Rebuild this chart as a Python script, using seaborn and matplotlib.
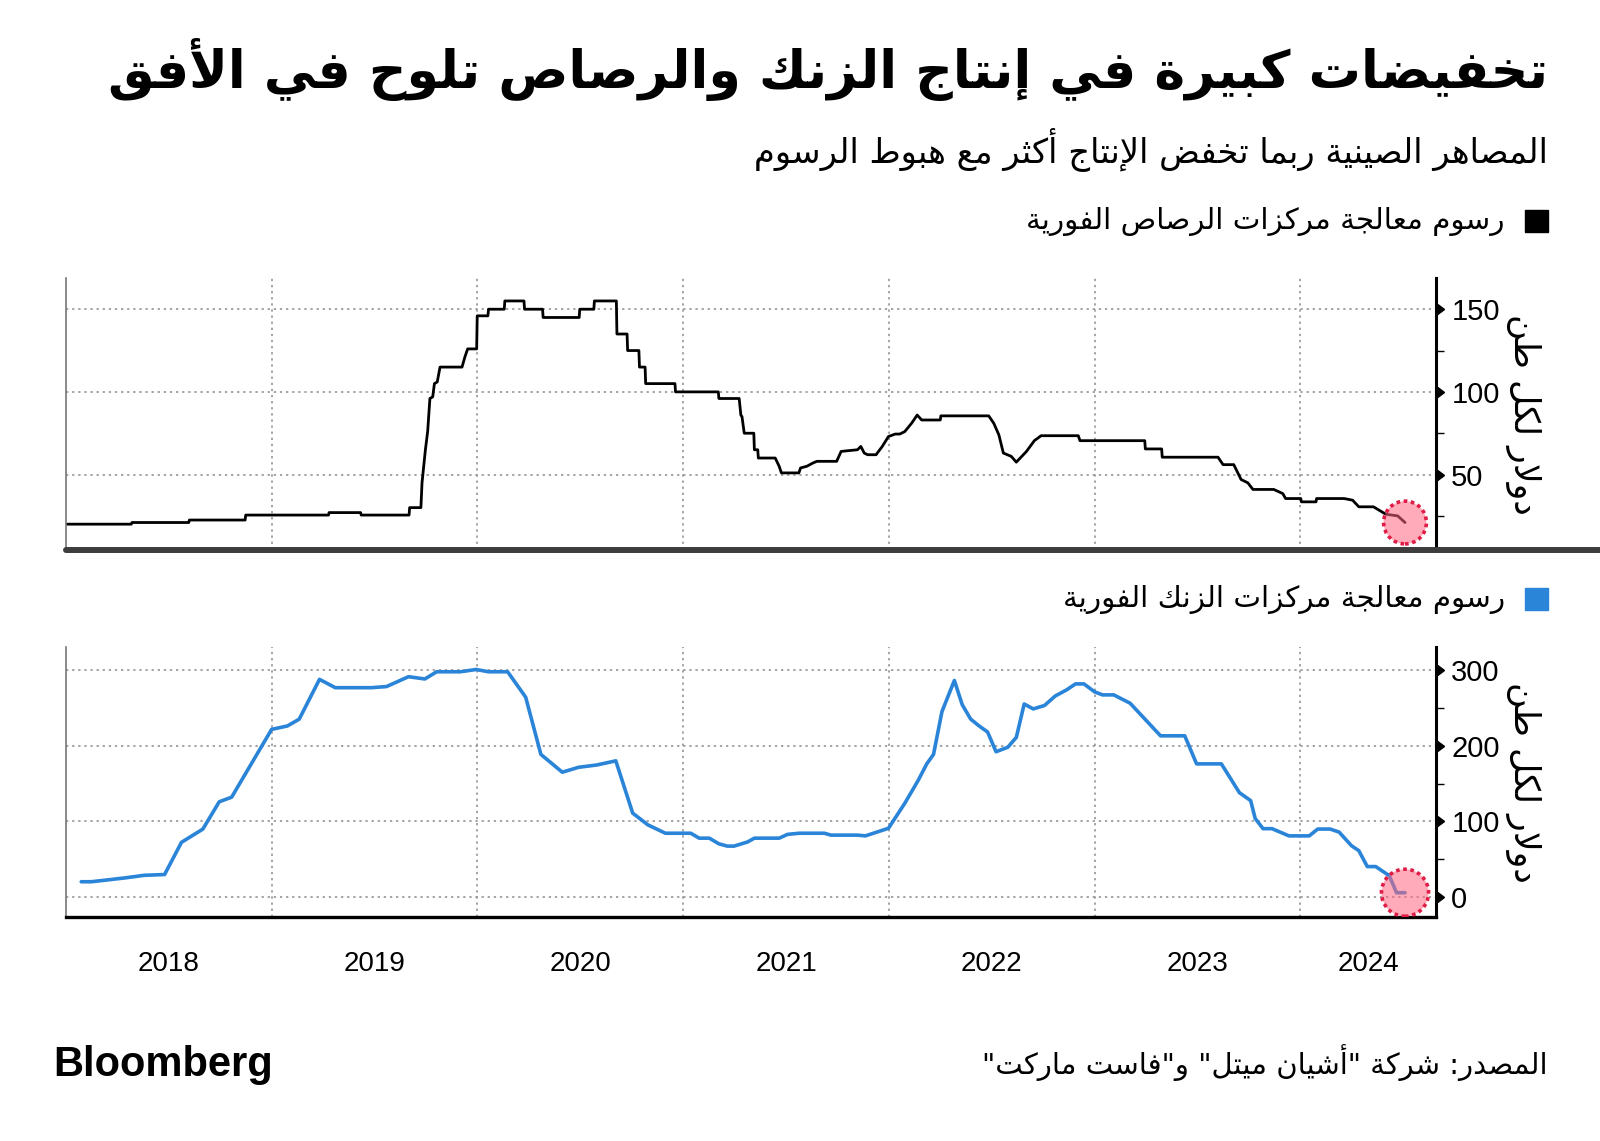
import numpy as np
import pandas as pd
import matplotlib
matplotlib.use('Agg')
import matplotlib.pyplot as plt
import matplotlib.transforms as mtransforms
from matplotlib.lines import Line2D
from matplotlib.patches import Rectangle
import seaborn as sns

# ---- data ----
lead_dates = [
    '2018-01-03', '2018-04-27', '2018-04-28', '2018-08-07', '2018-08-08', '2018-11-15',
    '2018-11-16', '2019-04-12', '2019-04-13', '2019-06-08', '2019-06-09', '2019-09-02',
    '2019-09-03', '2019-09-23', '2019-09-25', '2019-10-01', '2019-10-05', '2019-10-09',
    '2019-10-14', '2019-10-17', '2019-10-22', '2019-10-27', '2019-12-05', '2019-12-10',
    '2019-12-15', '2019-12-31', '2020-01-01', '2020-01-20', '2020-01-21', '2020-02-18',
    '2020-02-19', '2020-03-24', '2020-03-25', '2020-04-26', '2020-04-27', '2020-06-30',
    '2020-07-01', '2020-07-26', '2020-07-27', '2020-09-04', '2020-09-05', '2020-09-23',
    '2020-09-24', '2020-10-14', '2020-10-15', '2020-10-25', '2020-10-26', '2020-12-17',
    '2020-12-18', '2021-03-04', '2021-03-05', '2021-04-10', '2021-04-13', '2021-04-15',
    '2021-04-19', '2021-05-06', '2021-05-07', '2021-05-13', '2021-05-14', '2021-06-13',
    '2021-06-20', '2021-06-24', '2021-07-25', '2021-07-28', '2021-08-08', '2021-08-19',
    '2021-08-26', '2021-09-30', '2021-10-08', '2021-11-06', '2021-11-12', '2021-11-18',
    '2021-11-24', '2021-12-09', '2021-12-20', '2021-12-31', '2022-01-12', '2022-01-20',
    '2022-01-29', '2022-02-10', '2022-02-20', '2022-02-28', '2022-04-02', '2022-04-03',
    '2022-06-27', '2022-07-06', '2022-07-15', '2022-07-23', '2022-08-06', '2022-08-15',
    '2022-09-02', '2022-09-16', '2022-09-28', '2022-12-03', '2022-12-06', '2023-03-31',
    '2023-04-01', '2023-04-30', '2023-05-01', '2023-08-08', '2023-08-17', '2023-09-05',
    '2023-09-18', '2023-09-30', '2023-10-09', '2023-11-15', '2023-12-01', '2023-12-06',
    '2024-01-02', '2024-01-03', '2024-01-29', '2024-01-30', '2024-03-19', '2024-04-03',
    '2024-04-14', '2024-05-10', '2024-06-01', '2024-06-22', '2024-07-05',
]
lead_fees = [
    20, 20, 21, 21, 22.5, 22.5,
    25.5, 25.5, 27, 27, 25.5, 25.5,
    30, 30, 45, 65, 76, 96,
    97, 105, 106, 115, 115, 121,
    126, 126, 146, 146, 150, 150,
    155, 155, 150, 150, 145, 145,
    150, 150, 155, 155, 135, 135,
    125, 125, 115, 115, 105, 105,
    100, 100, 96, 96, 86, 85,
    75, 75, 65, 65, 60, 60,
    55, 51, 51, 54, 55, 57,
    58, 58, 64, 65, 67, 63,
    62, 62, 67, 73, 74.5, 74.5,
    76, 81, 86, 83, 83, 85.5,
    85.5, 81, 74, 63, 61, 57.5,
    64, 70.5, 73.5, 73.5, 70.5, 70.5,
    65.5, 65.5, 60.5, 60.5, 56, 56,
    47, 45, 41, 41, 38.5, 35.5,
    35.5, 33.5, 33.5, 35.5, 35.5, 34.5,
    30.5, 30.5, 26, 25, 21,
]

zinc_dates = [
    '2018-01-28', '2018-02-15', '2018-03-11', '2018-04-15', '2018-05-20', '2018-06-25',
    '2018-07-25', '2018-09-01', '2018-09-30', '2018-10-22', '2019-01-01', '2019-01-29',
    '2019-02-19', '2019-03-27', '2019-04-24', '2019-06-27', '2019-07-24', '2019-09-01',
    '2019-09-30', '2019-10-21', '2019-12-02', '2019-12-30', '2020-01-21', '2020-02-24',
    '2020-03-27', '2020-04-23', '2020-05-31', '2020-06-29', '2020-07-31', '2020-09-03',
    '2020-10-03', '2020-10-30', '2020-11-30', '2021-01-14', '2021-01-29', '2021-02-16',
    '2021-03-05', '2021-03-20', '2021-04-01', '2021-04-25', '2021-05-07', '2021-06-20',
    '2021-07-05', '2021-07-26', '2021-09-08', '2021-09-20', '2021-11-06', '2021-11-20',
    '2021-12-31', '2022-01-29', '2022-02-22', '2022-03-09', '2022-03-21', '2022-04-05',
    '2022-04-27', '2022-05-11', '2022-05-26', '2022-06-10', '2022-06-25', '2022-07-10',
    '2022-07-31', '2022-08-15', '2022-08-29', '2022-09-14', '2022-10-04', '2022-10-23',
    '2022-11-12', '2022-11-28', '2022-12-13', '2023-01-01', '2023-01-15', '2023-02-04',
    '2023-03-05', '2023-04-28', '2023-06-10', '2023-07-01', '2023-08-14', '2023-09-15',
    '2023-10-05', '2023-10-13', '2023-10-27', '2023-11-12', '2023-12-12', '2024-01-17',
    '2024-02-01', '2024-02-23', '2024-03-10', '2024-04-01', '2024-04-14', '2024-04-29',
    '2024-05-14', '2024-06-07', '2024-06-20', '2024-07-05',
]
zinc_fees = [
    20.5, 20.5, 22.5, 25.5, 29, 30,
    72.5, 90, 126, 132, 221.5, 226,
    235, 287.5, 276.5, 276.5, 278, 291,
    288, 297.5, 297.5, 300.5, 297.5, 297.5,
    264, 188.5, 165, 171.5, 174.5, 180,
    111, 95.5, 84.5, 84.5, 78, 78,
    70.5, 67.5, 67.5, 73, 78, 78,
    83, 84.5, 84.5, 82, 82, 81,
    91, 124, 154.5, 176, 188.5, 245,
    286, 254, 235, 226, 218, 192,
    198, 211, 255, 248.5, 253, 265.5,
    273.5, 281.5, 281.5, 271, 267, 267,
    256, 213, 213, 176, 176, 138,
    127.5, 104, 90.5, 90.5, 81, 81,
    90, 90, 86, 68, 61.5, 40.5,
    40.5, 28.5, 6, 6,
]

years = [2018, 2019, 2020, 2021, 2022, 2023, 2024]
lead_ticks = [50, 100, 150]
zinc_ticks = [0, 100, 200, 300]

title = 'تخفيضات كبيرة في إنتاج الزنك والرصاص تلوح في الأفق'
subtitle = 'المصاهر الصينية ربما تخفض الإنتاج أكثر مع هبوط الرسوم'
lead_label = 'رسوم معالجة مركزات الرصاص الفورية'
zinc_label = 'رسوم معالجة مركزات الزنك الفورية'
unit_label = 'دولار لكل طن'
source = 'المصدر: شركة "أشيان ميتل" و"فاست ماركت"'

LEAD_COLOR = 'black'
ZINC_COLOR = '#2a84d8'
GRID_COLOR = '#8c8c8c'

# ---- minimal Arabic shaping (matplotlib has no complex text layout) ----
AR_LETTERS = 'ءآأؤإئابةتثجحخدذرزسشصضطظعغفقكلمنهوىي'
AR_NFORMS = [1, 2, 2, 2, 2, 4, 2, 4, 2, 4, 4, 4, 4, 4, 2, 2, 2, 2,
             4, 4, 4, 4, 4, 4, 4, 4, 4, 4, 4, 4, 4, 4, 4, 2, 2, 4]
LAM_ALEF = {'آ': 0xFEF5, 'أ': 0xFEF7, 'إ': 0xFEF9, 'ا': 0xFEFB}


def shape_ar(text):
    forms, code = {}, 0xFE80
    for ch, n in zip(AR_LETTERS, AR_NFORMS):
        forms[ch] = (code, n)
        code += n
    out = []
    i = 0
    while i < len(text):
        ch = text[i]
        if ch not in forms:
            out.append(ch)
            i += 1
            continue
        prev = text[i - 1] if i > 0 else ''
        nxt = text[i + 1] if i + 1 < len(text) else ''
        joins_prev = prev in forms and forms[prev][1] == 4
        if ch == 'ل' and nxt in LAM_ALEF:
            out.append(chr(LAM_ALEF[nxt] + int(joins_prev)))
            i += 2
            continue
        base, n = forms[ch]
        joins_next = n == 4 and nxt in forms and forms[nxt][1] > 1
        if n == 1:
            idx = 0
        elif n == 2:
            idx = 1 if joins_prev else 0
        else:
            idx = {(True, True): 3, (True, False): 1, (False, True): 2, (False, False): 0}[(joins_prev, joins_next)]
        out.append(chr(base + idx))
        i += 1
    return ''.join(reversed(out))


AR_FONT = ['DejaVu Sans']

sns.set_style('white')
plt.rcParams['font.family'] = ['Liberation Sans Narrow', 'Liberation Sans', 'DejaVu Sans']
plt.rcParams['text.color'] = 'black'
plt.rcParams['xtick.color'] = 'black'
plt.rcParams['ytick.color'] = 'black'
plt.rcParams['axes.labelcolor'] = 'black'

lead_df = pd.DataFrame({'date': pd.to_datetime(lead_dates), 'fee': lead_fees})
zinc_df = pd.DataFrame({'date': pd.to_datetime(zinc_dates), 'fee': zinc_fees})

fig = plt.figure(figsize=(16, 11.41), dpi=100)
ax1 = fig.add_axes([0.04125, 0.5180, 0.85625, 0.2381])
ax2 = fig.add_axes([0.04125, 0.1966, 0.85625, 0.2361])

sns.lineplot(data=lead_df, x='date', y='fee', ax=ax1, color=LEAD_COLOR, lw=2,
             estimator=None, sort=False)
sns.lineplot(data=zinc_df, x='date', y='fee', ax=ax2, color=ZINC_COLOR, lw=2.6,
             estimator=None, sort=False)

# highlight circles on the latest readings
for ax, df, size in [(ax1, lead_df, 950), (ax2, zinc_df, 1150)]:
    ax.scatter(df['date'].iloc[-1:], df['fee'].iloc[-1:], s=size,
               facecolor=(1.0, 0.40, 0.50, 0.55), edgecolor='#e01b45',
               linewidth=2.6, linestyle=(0, (1, 1)), zorder=5)

x_start = pd.Timestamp('2018-01-01')
x_end = pd.Timestamp('2024-08-29')
year_starts = pd.to_datetime([f'{y}-01-01' for y in years[1:]])
quarters = [d for d in pd.date_range('2018-01-01', x_end, freq='QS') if d.month != 1]

for ax, ticks, ylim in [(ax1, lead_ticks, (4.4, 168.7)), (ax2, zinc_ticks, (-25.6, 329.8))]:
    ax.set_xlim(x_start, x_end)
    ax.set_ylim(*ylim)
    ax.set_xticks(year_starts)
    ax.set_yticks(ticks)
    step = ticks[1] - ticks[0]
    ax.set_yticks([t + step / 2 for t in ticks if t + step / 2 < ylim[1]] +
                  [ticks[0] - step / 2] * (ticks[0] - step / 2 > ylim[0]), minor=True)
    ax.yaxis.tick_right()
    ax.yaxis.set_label_position('right')
    ax.grid(axis='both', which='major', color=GRID_COLOR, lw=1.1, ls=(0, (1.5, 2.5)))
    ax.tick_params(axis='y', which='major', length=7, width=1, color='black',
                   pad=4, labelsize=21)
    ax.tick_params(axis='y', which='minor', length=6, width=1, color='black')
    # Bloomberg-style arrow heads on the value ticks
    for t in ax.yaxis.get_major_ticks():
        t.tick2line.set_marker(9)
        t.tick2line.set_markersize(8)
        t.tick2line.set_markerfacecolor('black')
    ax.set_xlabel('')
    ax.set_ylabel(shape_ar(unit_label), rotation=270, fontsize=25, family=AR_FONT,
                  va='center', ha='center')
    ax.yaxis.set_label_coords(1.0635, 0.5)
    ax.spines['top'].set_visible(False)
    ax.spines['left'].set_color('#777777')
    ax.spines['left'].set_linewidth(1.2)
    ax.spines['right'].set_color('black')
    ax.spines['right'].set_linewidth(2.2)
    ax.set_facecolor('white')

ax1.spines['bottom'].set_visible(False)
ax1.tick_params(axis='x', which='both', length=0, labelbottom=False)

ax2.spines['bottom'].set_color('black')
ax2.spines['bottom'].set_linewidth(2.4)
ax2.set_xticks(quarters, minor=True)
ax2.tick_params(axis='x', which='major', length=45, width=1, color='#9a9a9a',
                labelbottom=False)
ax2.tick_params(axis='x', which='minor', length=5, width=1.3, color='black')

# year labels centred in each year span
trans = mtransforms.blended_transform_factory(ax2.transData, ax2.transAxes)
for y in years:
    a = max(pd.Timestamp(f'{y}-01-01'), x_start)
    b = min(pd.Timestamp(f'{y + 1}-01-01'), x_end)
    ax2.text(a + (b - a) / 2, -0.1756, str(y), transform=trans, ha='center',
             va='center', fontsize=20)

# panel separator
fig.add_artist(Line2D([0.04125, 1.0], [0.5177, 0.5177], color='#3d3d3d', lw=4.3))

# titles and legend keys
fig.text(0.9675, 0.9395, shape_ar(title), ha='right', va='center', fontsize=37.5,
         fontweight='bold', family=AR_FONT)
fig.text(0.9675, 0.8694, shape_ar(subtitle), ha='right', va='center', fontsize=24.3,
         family=AR_FONT)
fig.text(0.9406, 0.8063, shape_ar(lead_label), ha='right', va='center', fontsize=21.2,
         family=AR_FONT)
fig.text(0.9406, 0.4750, shape_ar(zinc_label), ha='right', va='center', fontsize=21.2,
         family=AR_FONT)
fig.add_artist(Rectangle((0.9531, 0.7967), 0.0144, 0.0193, color=LEAD_COLOR,
                         transform=fig.transFigure))
fig.add_artist(Rectangle((0.9531, 0.4654), 0.0144, 0.0193, color=ZINC_COLOR,
                         transform=fig.transFigure))

fig.text(0.9675, 0.0684, shape_ar(source), ha='right', va='center', fontsize=21,
         family=AR_FONT)
fig.text(0.0331, 0.067, 'Bloomberg', ha='left', va='center', fontsize=30,
         fontweight='bold', color='black', family=['Liberation Sans', 'DejaVu Sans'])

fig.savefig('out.png', dpi=100, facecolor='white')
